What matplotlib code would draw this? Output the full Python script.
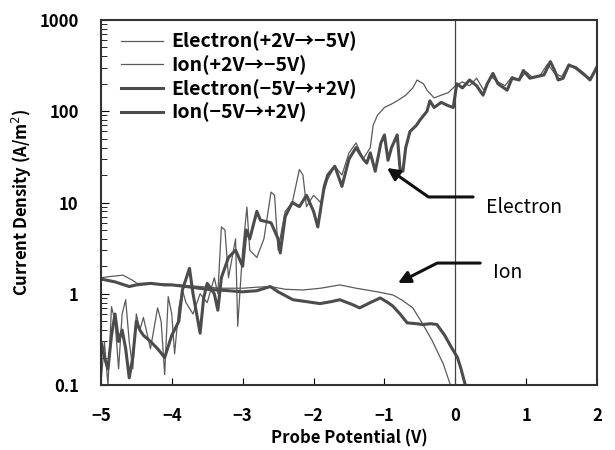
import matplotlib
matplotlib.use('Agg')
import matplotlib.pyplot as plt
from matplotlib.ticker import FuncFormatter, LogLocator, FixedLocator

plt.rcParams['font.family'] = ['Noto Sans CJK JP', 'DejaVu Sans']

# ---- electron, thin (+2V -> -5V) ----
xe_thin = [-5.0, -4.95, -4.9, -4.85, -4.8, -4.75, -4.7, -4.65, -4.6, -4.55, -4.5, -4.45,
           -4.4, -4.3, -4.2, -4.15, -4.1, -4.05, -4.0, -3.96, -3.9, -3.85, -3.8, -3.7,
           -3.6, -3.5, -3.4, -3.35, -3.3, -3.25, -3.2, -3.1, -3.07, -3.0, -2.94, -2.9,
           -2.8, -2.7, -2.6, -2.55, -2.5, -2.45, -2.4, -2.3, -2.2, -2.15, -2.1, -2.0,
           -1.9, -1.8, -1.7, -1.6, -1.5, -1.4, -1.3, -1.2, -1.16, -1.1, -1.0, -0.9,
           -0.82, -0.7, -0.6, -0.54, -0.45, -0.4, -0.3, -0.2, -0.1, 0.0, 0.1, 0.2,
           0.3, 0.4, 0.5, 0.6, 0.7, 0.8, 0.9, 1.0, 1.1, 1.2, 1.3, 1.4, 1.5, 1.6,
           1.7, 1.8, 1.9, 2.0]
ye_thin = [0.1, 0.3, 0.1, 0.72, 0.5, 0.15, 0.6, 0.86, 0.3, 0.15, 0.6, 0.4,
           0.55, 0.25, 0.7, 0.5, 0.13, 0.93, 0.6, 0.22, 0.7, 1.1, 0.8, 0.6,
           1.0, 0.8, 1.5, 1.0, 5.4, 5.0, 1.5, 4.0, 0.44, 3.0, 8.9, 3.0,
           2.5, 4.0, 13, 12, 3.0, 5.0, 8.0, 10, 23, 20, 9.0, 12,
           10, 18, 25, 20, 35, 45, 30, 40, 70, 90, 110, 120,
           130, 150, 180, 220, 200, 170, 140, 150, 160, 190, 210, 190,
           230, 170, 240, 210, 190, 240, 220, 270, 230, 250, 330, 260, 240, 330,
           290, 250, 230, 300]

# ---- electron, thick (-5V -> +2V) ----
xe_thick = [-5.0, -4.95, -4.9, -4.85, -4.8, -4.75, -4.7, -4.65, -4.6, -4.55, -4.5, -4.45,
            -4.4, -4.3, -4.2, -4.1, -4.0, -3.9, -3.85, -3.75, -3.7, -3.6, -3.55, -3.5,
            -3.4, -3.35, -3.3, -3.2, -3.1, -3.0, -2.95, -2.9, -2.8, -2.75, -2.6, -2.5,
            -2.47, -2.4, -2.3, -2.2, -2.1, -2.0, -1.94, -1.85, -1.8, -1.7, -1.6, -1.5,
            -1.4, -1.3, -1.25, -1.2, -1.13, -1.05, -1.0, -0.95, -0.9, -0.82, -0.78, -0.74,
            -0.7, -0.64, -0.55, -0.5, -0.4, -0.36, -0.3, -0.2, -0.1, -0.03, 0.02, 0.1,
            0.2, 0.3, 0.39, 0.45, 0.53, 0.6, 0.73, 0.8, 0.9, 0.96, 1.05, 1.15,
            1.25, 1.34, 1.4, 1.45, 1.52, 1.6, 1.7, 1.8, 1.9, 2.0]
ye_thick = [0.3, 0.2, 0.15, 0.35, 0.6, 0.3, 0.4, 0.25, 0.12, 0.2, 0.5, 0.4,
            0.35, 0.3, 0.25, 0.2, 0.35, 0.5, 1.1, 1.9, 1.0, 0.37, 0.9, 1.3,
            1.0, 0.66, 1.5, 2.5, 3.0, 2.0, 5.0, 4.0, 8.0, 6.4, 6.0, 4.0,
            2.8, 7.0, 10, 9.0, 12, 8.0, 5.4, 15, 20, 25, 15, 30,
            40, 30, 27, 35, 22, 45, 55, 29, 40, 55, 23, 22,
            40, 60, 70, 80, 100, 130, 110, 125, 115, 110, 200, 180,
            220, 190, 150, 200, 260, 200, 170, 230, 220, 280, 230, 240,
            250, 350, 280, 220, 230, 320, 300, 260, 220, 310]

# ---- ion, thin (+2V -> -5V) ----
xi_thin = [-5.0, -4.85, -4.69, -4.55, -4.49, -4.3, -4.1, -3.9, -3.6, -3.3, -3.0, -2.8,
           -2.61, -2.4, -2.15, -1.9, -1.63, -1.4, -1.1, -0.88, -0.75, -0.6, -0.47, -0.33,
           -0.17, -0.07]
yi_thin = [1.5, 1.55, 1.6, 1.4, 1.3, 1.3, 1.28, 1.25, 1.2, 1.15, 1.15, 1.18,
           1.2, 1.12, 1.1, 1.15, 1.25, 1.15, 1.05, 0.97, 0.85, 0.7, 0.48, 0.31,
           0.17, 0.1]

# ---- ion, thick (-5V -> +2V) ----
xi_thick = [-5.0, -4.8, -4.6, -4.5, -4.3, -4.1, -4.0, -3.8, -3.5, -3.2, -3.0, -2.8,
            -2.61, -2.5, -2.29, -2.1, -1.91, -1.75, -1.63, -1.45, -1.35, -1.2, -1.06, -0.95,
            -0.88, -0.78, -0.68, -0.55, -0.46, -0.35, -0.26, -0.15, -0.07, 0.03, 0.08, 0.14]
yi_thick = [1.45, 1.35, 1.2, 1.25, 1.3, 1.25, 1.25, 1.2, 1.12, 1.08, 1.05, 1.08,
            1.2, 1.05, 0.86, 0.82, 0.78, 0.82, 0.86, 0.76, 0.7, 0.8, 0.9, 0.8,
            0.73, 0.6, 0.48, 0.47, 0.46, 0.47, 0.46, 0.35, 0.27, 0.2, 0.15, 0.1]

labels = ['Electron(+2V→−5V)', 'Ion(+2V→−5V)', 'Electron(−5V→+2V)', 'Ion(−5V→+2V)']
x_ticks = [-5, -4, -3, -2, -1, 0, 1, 2]
y_ticks = [0.1, 1, 10, 100, 1000]

thin_c = '#5a5a5a'
thick_c = '#4c4c4c'

fig = plt.figure(figsize=(6.15, 4.5), dpi=100)
ax = fig.add_axes([0.164, 0.1444, 0.807, 0.8112])

ax.plot(xe_thin, ye_thin, color=thin_c, lw=0.9, label=labels[0])
ax.plot(xi_thin, yi_thin, color=thin_c, lw=0.9, label=labels[1])
ax.plot(xe_thick, ye_thick, color=thick_c, lw=2.2, label=labels[2])
ax.plot(xi_thick, yi_thick, color=thick_c, lw=2.2, label=labels[3])

ax.axvline(0, color='#444444', lw=0.9)

ax.set_yscale('log')
ax.set_xlim(-5, 2)
ax.set_ylim(0.1, 1000)
ax.xaxis.set_major_locator(FixedLocator(x_ticks))
ax.yaxis.set_major_locator(FixedLocator(y_ticks))
ax.yaxis.set_minor_locator(LogLocator(base=10, subs=range(2, 10)))
ax.yaxis.set_major_formatter(FuncFormatter(lambda v, p: '{:g}'.format(v)))
ax.tick_params(axis='both', which='both', direction='in', labelsize=12)
ax.tick_params(axis='x', length=5, pad=16)
ax.tick_params(axis='y', which='major', length=6, pad=16)
ax.tick_params(axis='y', which='minor', length=4)
for lab in ax.get_xticklabels() + ax.get_yticklabels():
    lab.set_fontweight('bold')
for s in ax.spines.values():
    s.set_linewidth(1.5)
    s.set_color('#333333')

ax.set_xlabel('Probe Potential (V)', fontsize=12, fontweight='bold', labelpad=3)
ax.set_ylabel('Current Density (A/m$^2$)', fontsize=12, fontweight='bold', labelpad=4)

ax.legend(loc='upper left', frameon=False, handlelength=2.2,
          handletextpad=0.4, labelspacing=0.2, borderaxespad=0.1,
          bbox_to_anchor=(0.02, 0.995),
          prop={'weight': 'bold', 'size': 14})

# annotations
arr = dict(arrowstyle='-|>', color='#111111', lw=2.2, mutation_scale=18,
           shrinkA=0, shrinkB=0)
ax.annotate('', xy=(-0.964, 23.9), xytext=(0.25, 11.5),
            arrowprops=dict(connectionstyle='angle,angleA=0,angleB=-35,rad=0', **arr))
ax.annotate('', xy=(-0.81, 1.31), xytext=(0.35, 2.17),
            arrowprops=dict(connectionstyle='angle,angleA=0,angleB=27,rad=0', **arr))
ax.text(0.43, 8.9, 'Electron', fontsize=14, va='center', ha='left')
ax.text(0.53, 1.69, 'Ion', fontsize=14, va='center', ha='left')

fig.savefig('out.png', dpi=100)
